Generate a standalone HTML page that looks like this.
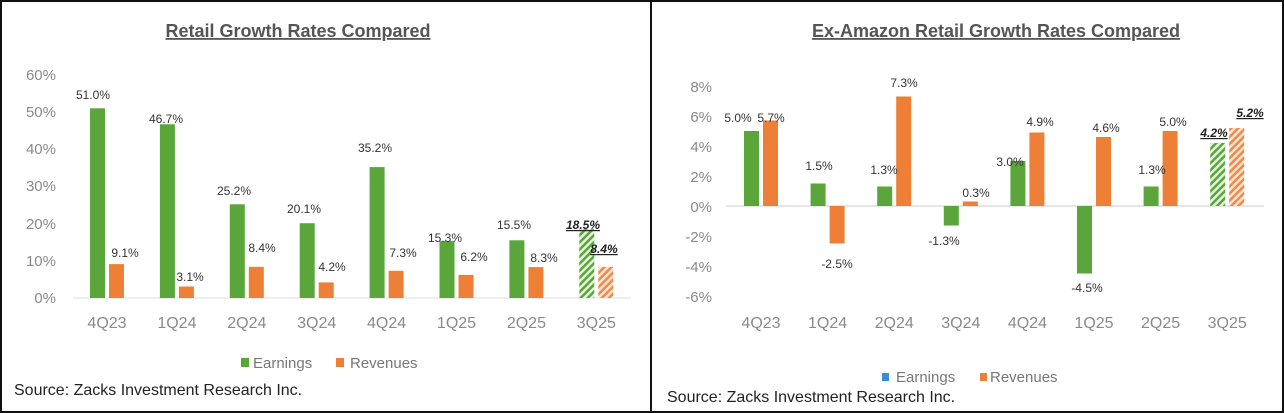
<!DOCTYPE html>
<html><head><meta charset="utf-8"><style>
html,body{margin:0;padding:0;background:#fff}
svg{display:block}
text{font-family:"Liberation Sans",Arial,sans-serif}
.t{font-size:18px;fill:#555;font-weight:bold;text-decoration:underline}
.y{font-size:15px;fill:#8a8a8a;text-anchor:end}
.x{font-size:16px;fill:#8a8a8a;text-anchor:middle}
.d{font-size:12px;fill:#333;text-anchor:middle}
.b{font-size:12px;fill:#222;text-anchor:middle;font-weight:bold;font-style:italic;text-decoration:underline}
.l{font-size:15px;fill:#777}
.s{font-size:16px;fill:#222}
</style></head><body>
<svg width="1284" height="413" viewBox="0 0 1284 413" xmlns="http://www.w3.org/2000/svg">
<defs>
<pattern id="hg" patternUnits="userSpaceOnUse" width="5" height="5" patternTransform="rotate(45)"><rect width="5" height="5" fill="#e4f2dc"/><rect width="2.5" height="5" fill="#5aa63a"/></pattern>
<pattern id="ho" patternUnits="userSpaceOnUse" width="5" height="5" patternTransform="rotate(45)"><rect width="5" height="5" fill="#fbe3d2"/><rect width="2.5" height="5" fill="#ee8a4a"/></pattern>
</defs>
<rect x="1" y="1" width="1282" height="411" fill="#fff" stroke="#111" stroke-width="2"/>
<line x1="651" y1="1" x2="651" y2="412" stroke="#111" stroke-width="2"/>

<!-- LEFT -->
<text x="298" y="37" class="t" text-anchor="middle">Retail Growth Rates Compared</text>
<g>
<text x="56" y="80" class="y">60%</text>
<text x="56" y="117" class="y">50%</text>
<text x="56" y="154" class="y">40%</text>
<text x="56" y="191" class="y">30%</text>
<text x="56" y="229" class="y">20%</text>
<text x="56" y="266" class="y">10%</text>
<text x="56" y="303" class="y">0%</text>
</g>
<line x1="73" y1="298" x2="631" y2="298" stroke="#ddd" stroke-width="1"/>
<g fill="#5aa63a">
<rect x="90" y="108.3" width="15" height="189.7"/>
<rect x="159.9" y="124.3" width="15" height="173.7"/>
<rect x="229.8" y="204.3" width="15" height="93.7"/>
<rect x="299.7" y="223.2" width="15" height="74.8"/>
<rect x="369.6" y="167.1" width="15" height="130.9"/>
<rect x="439.5" y="241.1" width="15" height="56.9"/>
<rect x="509.4" y="240.3" width="15" height="57.7"/>
</g>
<rect x="579.3" y="229.2" width="15" height="68.8" fill="url(#hg)"/>
<g fill="#ee7f36">
<rect x="109" y="264.1" width="15" height="33.9"/>
<rect x="178.9" y="286.5" width="15" height="11.5"/>
<rect x="248.8" y="266.8" width="15" height="31.2"/>
<rect x="318.7" y="282.4" width="15" height="15.6"/>
<rect x="388.6" y="270.8" width="15" height="27.2"/>
<rect x="458.5" y="274.9" width="15" height="23.1"/>
<rect x="528.4" y="267.1" width="15" height="30.9"/>
</g>
<rect x="598.3" y="266.8" width="15" height="31.2" fill="url(#ho)"/>
<g>
<text x="93" y="99" class="d">51.0%</text>
<text x="125" y="257" class="d">9.1%</text>
<text x="166" y="123" class="d">46.7%</text>
<text x="190" y="281" class="d">3.1%</text>
<text x="234" y="195" class="d">25.2%</text>
<text x="262" y="252" class="d">8.4%</text>
<text x="304" y="213" class="d">20.1%</text>
<text x="332" y="271" class="d">4.2%</text>
<text x="375" y="152" class="d">35.2%</text>
<text x="403" y="257" class="d">7.3%</text>
<text x="445" y="242" class="d">15.3%</text>
<text x="474" y="261" class="d">6.2%</text>
<text x="514" y="229" class="d">15.5%</text>
<text x="544" y="262" class="d">8.3%</text>
<text x="583" y="229" class="b">18.5%</text>
<text x="604" y="253" class="b">8.4%</text>
</g>
<g>
<text x="107" y="328" class="x">4Q23</text>
<text x="176.9" y="328" class="x">1Q24</text>
<text x="246.8" y="328" class="x">2Q24</text>
<text x="316.7" y="328" class="x">3Q24</text>
<text x="386.6" y="328" class="x">4Q24</text>
<text x="456.5" y="328" class="x">1Q25</text>
<text x="526.4" y="328" class="x">2Q25</text>
<text x="596.3" y="328" class="x">3Q25</text>
</g>
<rect x="241" y="358" width="8" height="9" fill="#5aa63a"/>
<text x="253" y="368" class="l">Earnings</text>
<rect x="336" y="358" width="8" height="9" fill="#ee7f36"/>
<text x="350" y="368" class="l">Revenues</text>
<text x="14" y="395" class="s">Source: Zacks Investment Research Inc.</text>

<!-- RIGHT -->
<text x="996" y="37" class="t" text-anchor="middle">Ex-Amazon Retail Growth Rates Compared</text>
<g>
<text x="712" y="92" class="y">8%</text>
<text x="712" y="122" class="y">6%</text>
<text x="712" y="152" class="y">4%</text>
<text x="712" y="182" class="y">2%</text>
<text x="712" y="212" class="y">0%</text>
<text x="712" y="242" class="y">-2%</text>
<text x="712" y="272" class="y">-4%</text>
<text x="712" y="302" class="y">-6%</text>
</g>
<line x1="726" y1="206" x2="1264" y2="206" stroke="#ccc" stroke-width="1"/>
<g fill="#5aa63a">
<rect x="744" y="131" width="15" height="75"/>
<rect x="810.6" y="183.5" width="15" height="22.5"/>
<rect x="877.2" y="186.5" width="15" height="19.5"/>
<rect x="943.8" y="206" width="15" height="19.5"/>
<rect x="1010.4" y="161" width="15" height="45"/>
<rect x="1077" y="206" width="15" height="67.5"/>
<rect x="1143.6" y="186.5" width="15" height="19.5"/>
</g>
<rect x="1210.2" y="143" width="15" height="63" fill="url(#hg)"/>
<g fill="#ee7f36">
<rect x="763" y="120.5" width="15" height="85.5"/>
<rect x="829.6" y="206" width="15" height="37.5"/>
<rect x="896.2" y="96.5" width="15" height="109.5"/>
<rect x="962.8" y="201.5" width="15" height="4.5"/>
<rect x="1029.4" y="132.5" width="15" height="73.5"/>
<rect x="1096" y="137" width="15" height="69"/>
<rect x="1162.6" y="131" width="15" height="75"/>
</g>
<rect x="1229.2" y="128" width="15" height="78" fill="url(#ho)"/>
<g>
<text x="738" y="122" class="d">5.0%</text>
<text x="771" y="122" class="d">5.7%</text>
<text x="819" y="170" class="d">1.5%</text>
<text x="837" y="268" class="d">-2.5%</text>
<text x="884" y="174" class="d">1.3%</text>
<text x="904" y="87" class="d">7.3%</text>
<text x="944" y="245" class="d">-1.3%</text>
<text x="976" y="197" class="d">0.3%</text>
<text x="1010" y="166" class="d">3.0%</text>
<text x="1040" y="126" class="d">4.9%</text>
<text x="1087" y="292" class="d">-4.5%</text>
<text x="1106" y="132" class="d">4.6%</text>
<text x="1152" y="174" class="d">1.3%</text>
<text x="1173" y="126" class="d">5.0%</text>
<text x="1214" y="137" class="b">4.2%</text>
<text x="1250" y="117" class="b">5.2%</text>
</g>
<g>
<text x="761" y="328" class="x">4Q23</text>
<text x="827.6" y="328" class="x">1Q24</text>
<text x="894.2" y="328" class="x">2Q24</text>
<text x="960.8" y="328" class="x">3Q24</text>
<text x="1027.4" y="328" class="x">4Q24</text>
<text x="1094" y="328" class="x">1Q25</text>
<text x="1160.6" y="328" class="x">2Q25</text>
<text x="1227.2" y="328" class="x">3Q25</text>
</g>
<rect x="882" y="373" width="7" height="8" fill="#3a8fd6"/>
<text x="896" y="382" class="l">Earnings</text>
<rect x="980" y="373" width="7" height="8" fill="#ee7f36"/>
<text x="990" y="382" class="l">Revenues</text>
<text x="667" y="402" class="s">Source: Zacks Investment Research Inc.</text>
</svg>
</body></html>
